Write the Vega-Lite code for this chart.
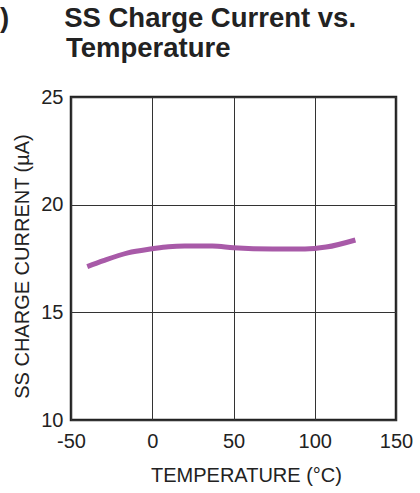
{
  "$schema": "https://vega.github.io/schema/vega-lite/v6.json",
  "width": 325,
  "height": 323,
  "autosize": {"type": "none"},
  "padding": {"left": 71, "top": 97, "right": 24, "bottom": 73},
  "background": "white",
  "title": {
    "text": [")\u2002\u2002\u2002\u2002SS Charge Current vs.", "\u200b\u2002\u2002\u2002\u2002\u2009\u2009Temperature"],
    "anchor": "start",
    "frame": "group",
    "orient": "top",
    "dx": -71,
    "offset": 3,
    "baseline": "alphabetic",
    "lineHeight": 30,
    "font": "Liberation Sans",
    "fontSize": 27.5,
    "fontWeight": "bold",
    "color": "#222222"
  },
  "data": {
    "values": [
      {"t": -40, "i": 17.12},
      {"t": -30, "i": 17.4},
      {"t": -15, "i": 17.76},
      {"t": 0, "i": 17.95},
      {"t": 10, "i": 18.05},
      {"t": 20, "i": 18.08},
      {"t": 37, "i": 18.08},
      {"t": 50, "i": 18.0},
      {"t": 74, "i": 17.94},
      {"t": 94, "i": 17.94},
      {"t": 107, "i": 18.03},
      {"t": 125, "i": 18.36}
    ]
  },
  "mark": {"type": "line", "color": "#a85aa8", "strokeWidth": 5, "interpolate": "monotone", "strokeCap": "butt"},
  "encoding": {
    "x": {
      "field": "t",
      "type": "quantitative",
      "scale": {"domain": [-50, 150], "nice": false, "zero": false},
      "axis": {
        "values": [-50, 0, 50, 100, 150],
        "labelExpr": "datum.value < 0 ? '-' + abs(datum.value) : datum.label",
        "grid": true,
        "gridColor": "#333333",
        "gridWidth": 1,
        "gridOpacity": 1,
        "domain": false,
        "ticks": false,
        "labelFont": "Liberation Sans",
        "labelFontSize": 20,
        "labelColor": "#222222",
        "labelPadding": 11,
        "labelFlush": false,
        "title": "TEMPERATURE (°C)",
        "titleFont": "Liberation Sans",
        "titleFontSize": 20,
        "titleFontWeight": "normal",
        "titleColor": "#222222",
        "titlePadding": 14,
        "titleX": 175
      }
    },
    "y": {
      "field": "i",
      "type": "quantitative",
      "scale": {"domain": [10, 25], "nice": false, "zero": false},
      "axis": {
        "values": [10, 15, 20, 25],
        "grid": true,
        "gridColor": "#333333",
        "gridWidth": 1,
        "gridOpacity": 1,
        "domain": false,
        "ticks": false,
        "labelFont": "Liberation Sans",
        "labelFontSize": 20,
        "labelColor": "#222222",
        "labelPadding": 8,
        "labelFlush": false,
        "title": "SS CHARGE CURRENT (µA)",
        "titleFont": "Liberation Sans",
        "titleFontSize": 20,
        "titleFontWeight": "normal",
        "titleColor": "#222222",
        "titlePadding": 8,
        "titleY": 169
      }
    }
  },
  "config": {
    "view": {"stroke": "#222222", "strokeWidth": 2.5}
  }
}
